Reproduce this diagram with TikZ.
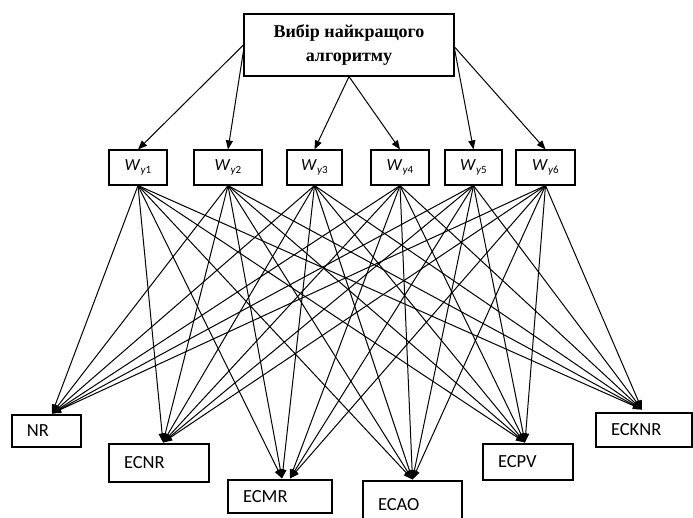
\documentclass[tikz,border=0pt]{standalone}
\usepackage{fontspec}
\setmainfont{Liberation Serif}
\newfontfamily\calib{Carlito}
\usetikzlibrary{arrows.meta,calc}
\newcommand\wl[1]{\textit{W}\raisebox{-3.5pt}{\fontsize{11}{11}\selectfont\textit{y}#1}}
\begin{document}
\begin{tikzpicture}[x=1pt,y=-1pt,
  box/.style={draw,line width=1.1pt,inner sep=0pt},
  wbox/.style={box,minimum height=35pt,font=\calib\fontsize{17}{17}\selectfont},
  algbox/.style={box,align=left,inner xsep=15pt,font=\calib\fontsize{18.5}{18.5}\selectfont},
  conn/.style={line width=1pt,-{Triangle[length=9pt,width=7pt]}}
]
\useasboundingbox (0,0) rectangle (693,517);
\node[box,minimum width=210pt,minimum height=62pt,align=center,font=\bfseries\fontsize{18}{24}\selectfont] (top) at (349,45) {Вибір найкращого\\алгоритму};
\node[wbox,minimum width=58pt] (w1) at (138,167.5) {\wl{1}};
\node[wbox,minimum width=68pt] (w2) at (228,167.5) {\wl{2}};
\node[wbox,minimum width=55pt] (w3) at (314.5,167.5) {\wl{3}};
\node[wbox,minimum width=58pt] (w4) at (400,167.5) {\wl{4}};
\node[wbox,minimum width=57pt] (w5) at (473.5,167.5) {\wl{5}};
\node[wbox,minimum width=59pt] (w6) at (545.5,167.5) {\wl{6}};
\node[algbox,text width=39pt,minimum height=32pt] (nr) at (46.5,431) {NR};
\node[algbox,text width=70pt,minimum height=38pt] (ecnr) at (159,463) {ECNR};
\node[algbox,text width=74pt,minimum height=33pt] (ecmr) at (280,496.5) {ECMR};
\node[algbox,text width=69pt,minimum height=48pt] (ecao) at (412.5,505) {ECAO};
\node[algbox,text width=60pt,minimum height=36pt] (ecpv) at (528,462) {ECPV};
\node[algbox,text width=66pt,minimum height=34pt] (ecknr) at (644,430) {ECKNR};
% top arrows
\draw[conn] (top.west) -- (w1.north);
\draw[conn] ([yshift=-6pt]top.west) -- (w2.north);
\draw[conn] (top.south) -- (w3.north);
\draw[conn] (top.south) -- (w4.north);
\draw[conn] ([yshift=-4pt]top.east) -- (w5.north);
\draw[conn] ([yshift=-2pt]top.east) -- (w6.north);
% targets
\coordinate (tnr) at ($(nr.north)+(5.5,-1)$);
\coordinate (tecnr) at ($(ecnr.north)+(4,-1)$);
\coordinate (tmra) at ($(ecmr.north)+(2,-1)$);
\coordinate (tmrb) at ($(ecmr.north)+(10,-1)$);
\coordinate (tecao) at ($(ecao.north)+(0,-1)$);
\coordinate (tecpv) at ($(ecpv.north)+(-3,-1)$);
\coordinate (tecknr) at ($(ecknr.north)+(-2,-3)$);
\foreach \w in {w1,w2,w3,w4,w5,w6}{
  \foreach \t in {tnr,tecnr,tecao,tecpv,tecknr}{
    \draw[conn] (\w.south) -- (\t);
  }
}
\foreach \w in {w1,w2,w3}{\draw[conn] (\w.south) -- (tmra);}
\foreach \w in {w4,w5,w6}{\draw[conn] (\w.south) -- (tmrb);}
\end{tikzpicture}
\end{document}
